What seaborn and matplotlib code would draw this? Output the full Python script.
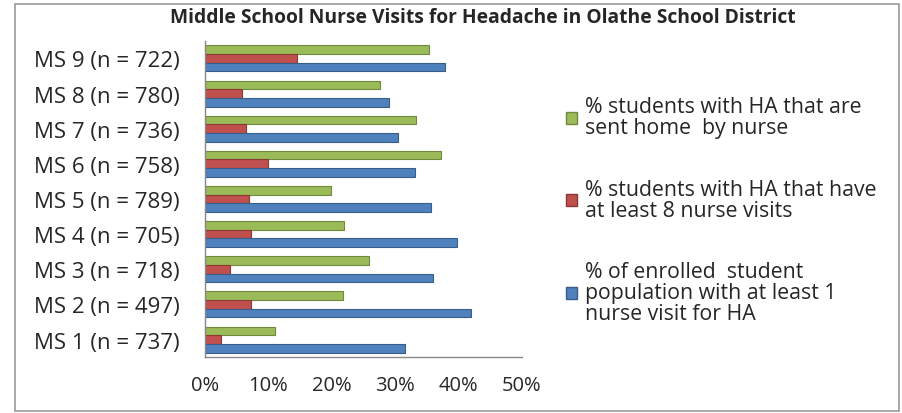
import pandas as pd
import numpy as np
import matplotlib.pyplot as plt
import seaborn as sns
from matplotlib.patches import Rectangle

# values (percent)
schools = ['MS 9', 'MS 8', 'MS 7', 'MS 6', 'MS 5', 'MS 4', 'MS 3', 'MS 2', 'MS 1']
n_students = [722, 780, 736, 758, 789, 705, 718, 497, 737]
sent_home = [35.4, 27.6, 33.3, 37.2, 19.9, 22.0, 25.8, 21.8, 11.0]
eight_visits = [14.5, 5.9, 6.4, 9.9, 7.0, 7.2, 4.0, 7.2, 2.6]
one_visit = [37.8, 29.0, 30.5, 33.2, 35.6, 39.7, 35.9, 41.9, 31.6]

series_names = ['% students with HA that are\nsent home  by nurse',
                '% students with HA that have\nat least 8 nurse visits',
                '% of enrolled  student\npopulation with at least 1\nnurse visit for HA']
colors = ['#9BBB59', '#C0504D', '#4F81BD']
edges = ['#71893F', '#8C3836', '#385D8A']

labels = [f'{s} (n = {n})' for s, n in zip(schools, n_students)]
rows = []
for lab, a, b, c in zip(labels, sent_home, eight_visits, one_visit):
    rows.append({'school': lab, 'series': series_names[0], 'value': a})
    rows.append({'school': lab, 'series': series_names[1], 'value': b})
    rows.append({'school': lab, 'series': series_names[2], 'value': c})
df = pd.DataFrame(rows)

sns.set_style('white')
plt.rcParams['font.family'] = ['Open Sans', 'DejaVu Sans']

fig = plt.figure(figsize=(9.03, 4.14), dpi=100)
ax = fig.add_axes([0.227, 0.135, 0.351, 0.764])

sns.barplot(data=df, y='school', x='value', hue='series', order=labels,
            hue_order=series_names, palette=colors, orient='h',
            width=0.74, ax=ax, legend=False, saturation=1)

for i, cont in enumerate(ax.containers):
    for bar in cont:
        bar.set_edgecolor(edges[i])
        bar.set_linewidth(0.8)

ax.set_xlim(0, 50)
ax.set_ylim(len(labels) - 0.5, -0.5)
ax.set_xticks(np.arange(0, 51, 10))
ax.set_xticklabels([f'{v}%' for v in range(0, 51, 10)], fontsize=14.5)
ax.set_yticks(range(len(labels)))
ax.set_yticklabels(labels, fontsize=16)
ax.set_yticks(np.arange(-0.5, len(labels), 1), minor=True)
ax.tick_params(axis='y', which='major', length=0, pad=18)
ax.tick_params(axis='y', which='minor', length=5, color='#888888', direction='out')
ax.tick_params(axis='x', length=4, color='#888888', direction='out', pad=9)
ax.set_xlabel('')
ax.set_ylabel('')
for side in ['top', 'right']:
    ax.spines[side].set_visible(False)
for side in ['left', 'bottom']:
    ax.spines[side].set_color('#888888')
    ax.spines[side].set_linewidth(1)

fig.text(0.535, 0.957, 'Middle School Nurse Visits for Headache in Olathe School District',
         ha='center', va='center', fontsize=13.9, fontweight='bold')

handles = [Rectangle((0, 0), 1, 1, facecolor=c, edgecolor=e) for c, e in zip(colors, edges)]
leg = fig.legend(handles, series_names, loc='center left', bbox_to_anchor=(0.606, 0.49),
                 frameon=False, fontsize=15.3, handlelength=0.5, handleheight=0.5,
                 handletextpad=0.4, labelspacing=1.9)
for t in leg.get_texts():
    t.set_linespacing(1.0)

# outer frame
fig.patches.append(Rectangle((0.017, 0.005), 0.979, 0.983, transform=fig.transFigure,
                             fill=False, edgecolor='#999999', linewidth=1.2))

fig.savefig('out.png', dpi=100)
